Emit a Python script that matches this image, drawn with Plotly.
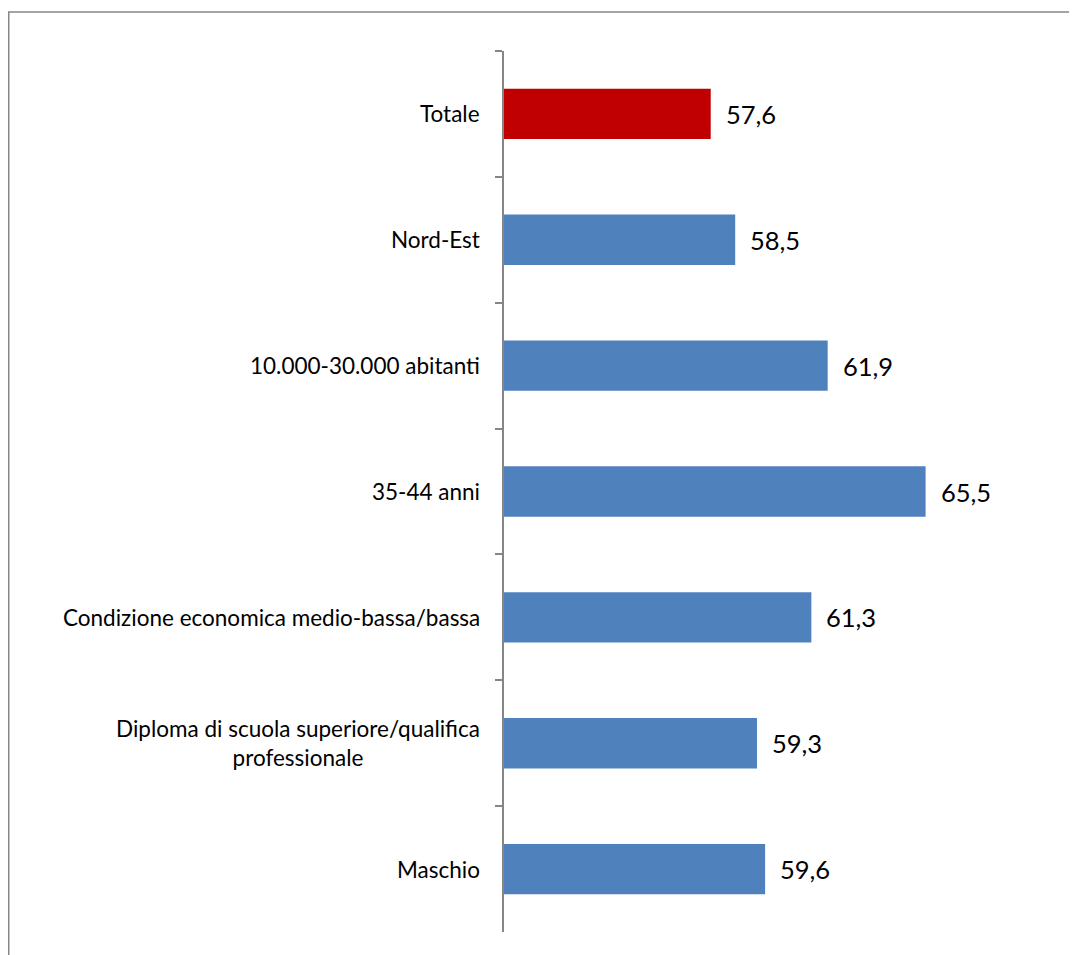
import plotly.graph_objects as go

# Data (top to bottom)
categories = [
    "Totale",
    "Nord-Est",
    "10.000-30.000 abitanti",
    "35-44 anni",
    "Condizione economica medio-bassa/bassa",
    "Diploma di scuola superiore/qualifica<br>professionale",
    "Maschio",
]
values = [57.6, 58.5, 61.9, 65.5, 61.3, 59.3, 59.6]
bar_colors = ["#C00000", "#4F81BD", "#4F81BD", "#4F81BD", "#4F81BD", "#4F81BD", "#4F81BD"]

FONT = "Lato"

fig = go.Figure()

fig.add_trace(go.Bar(
    x=values,
    y=categories,
    orientation="h",
    marker=dict(color=bar_colors, line=dict(width=0)),
    width=0.4,
    base=0,
    hoverinfo="skip",
))

# value labels at bar ends
for cat, v in zip(categories, values):
    fig.add_annotation(
        x=v, y=cat, xref="x", yref="y",
        text=f"{v:.1f}".replace(".", ","),
        showarrow=False, xanchor="left", xshift=13,
        font=dict(family=FONT, size=25.5, color="#000000"),
    )

# category labels, centred lines like the original
for cat in categories:
    fig.add_annotation(
        x=0, y=cat, xref="paper", yref="y",
        text=cat, align="center",
        showarrow=False, xanchor="right", xshift=-22,
        font=dict(family=FONT, size=22.5, color="#000000"),
    )

# outer chart frame (cut off at right and bottom)
fig.add_shape(
    type="rect", xref="paper", yref="paper",
    x0=-0.9104, x1=1.2, y0=-0.2, y1=1.0443,
    line=dict(color="#878787", width=1.5),
    fillcolor="rgba(0,0,0,0)",
)

fig.update_layout(
    width=1069,
    height=947,
    margin=dict(l=496, r=29, t=43, b=23),
    paper_bgcolor="white",
    plot_bgcolor="white",
    showlegend=False,
    xaxis=dict(range=[50, 70], visible=False, fixedrange=True),
    yaxis=dict(
        autorange="reversed",
        showline=True,
        linecolor="#868686",
        linewidth=1.5,
        ticks="outside",
        tickson="boundaries",
        ticklen=7,
        tickcolor="#868686",
        tickwidth=1.5,
        showticklabels=False,
        showgrid=False,
        zeroline=False,
    ),
)

fig.write_html("out.html")
